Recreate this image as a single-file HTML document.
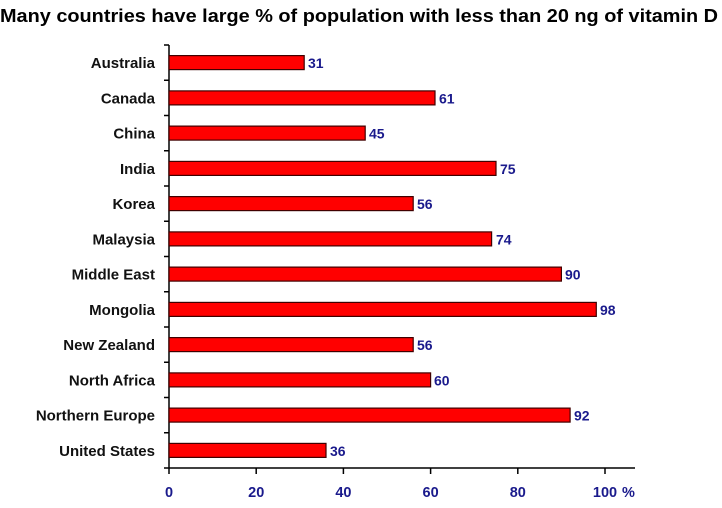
<!DOCTYPE html>
<html><head><meta charset="utf-8"><style>
body{margin:0;background:#fff;width:722px;height:508px;overflow:hidden}
svg{display:block}
</style></head><body>
<svg width="722" height="508" xmlns="http://www.w3.org/2000/svg" font-family="Liberation Sans, Arial, sans-serif" font-weight="bold">
<text x="0" y="22" font-size="18.5" fill="#000" textLength="718" lengthAdjust="spacingAndGlyphs">Many countries have large % of population with less than 20 ng of vitamin D</text>
<g stroke="#000" stroke-width="1.5">
<line x1="169" y1="45" x2="169" y2="468"/>
<line x1="164" y1="468" x2="635" y2="468"/>
<line x1="164" y1="45" x2="169" y2="45"/>
<line x1="164" y1="80.25" x2="169" y2="80.25"/>
<line x1="164" y1="115.5" x2="169" y2="115.5"/>
<line x1="164" y1="150.75" x2="169" y2="150.75"/>
<line x1="164" y1="186" x2="169" y2="186"/>
<line x1="164" y1="221.25" x2="169" y2="221.25"/>
<line x1="164" y1="256.5" x2="169" y2="256.5"/>
<line x1="164" y1="291.75" x2="169" y2="291.75"/>
<line x1="164" y1="327" x2="169" y2="327"/>
<line x1="164" y1="362.25" x2="169" y2="362.25"/>
<line x1="164" y1="397.5" x2="169" y2="397.5"/>
<line x1="164" y1="432.75" x2="169" y2="432.75"/>
<line x1="169" y1="468" x2="169" y2="474"/>
<line x1="256.2" y1="468" x2="256.2" y2="474"/>
<line x1="343.4" y1="468" x2="343.4" y2="474"/>
<line x1="430.6" y1="468" x2="430.6" y2="474"/>
<line x1="517.8" y1="468" x2="517.8" y2="474"/>
<line x1="605" y1="468" x2="605" y2="474"/>
</g>
<g fill="#ff0000" stroke="#400000" stroke-width="1.2">
<rect x="169" y="55.6" width="135.2" height="14"/>
<rect x="169" y="90.9" width="266" height="14"/>
<rect x="169" y="126.1" width="196.2" height="14"/>
<rect x="169" y="161.4" width="327" height="14"/>
<rect x="169" y="196.6" width="244.2" height="14"/>
<rect x="169" y="231.9" width="322.6" height="14"/>
<rect x="169" y="267.1" width="392.4" height="14"/>
<rect x="169" y="302.4" width="427.3" height="14"/>
<rect x="169" y="337.6" width="244.2" height="14"/>
<rect x="169" y="372.9" width="261.6" height="14"/>
<rect x="169" y="408.1" width="401.1" height="14"/>
<rect x="169" y="443.4" width="157" height="14"/>
</g>
<g font-size="15" text-anchor="end" fill="#111">
<text x="155" y="68">Australia</text>
<text x="155" y="103.3">Canada</text>
<text x="155" y="138.5">China</text>
<text x="155" y="173.8">India</text>
<text x="155" y="209">Korea</text>
<text x="155" y="244.3">Malaysia</text>
<text x="155" y="279.5">Middle East</text>
<text x="155" y="314.8">Mongolia</text>
<text x="155" y="350">New Zealand</text>
<text x="155" y="385.3">North Africa</text>
<text x="155" y="420.5">Northern Europe</text>
<text x="155" y="455.8">United States</text>
</g>
<g font-size="14" fill="#1a1a8c">
<text x="308" y="68">31</text>
<text x="439" y="103.3">61</text>
<text x="369" y="138.5">45</text>
<text x="500" y="173.8">75</text>
<text x="417" y="209">56</text>
<text x="496" y="244.3">74</text>
<text x="565" y="279.5">90</text>
<text x="600" y="314.8">98</text>
<text x="417" y="350">56</text>
<text x="434" y="385.3">60</text>
<text x="574" y="420.5">92</text>
<text x="330" y="455.8">36</text>
</g>
<g font-size="14.5" text-anchor="middle" fill="#1a1a8c">
<text x="169" y="497">0</text>
<text x="256.2" y="497">20</text>
<text x="343.4" y="497">40</text>
<text x="430.6" y="497">60</text>
<text x="517.8" y="497">80</text>
<text x="605" y="497">100</text>
</g>
<text x="622" y="497" font-size="14.5" fill="#1a1a8c">%</text>
</svg>
</body></html>
